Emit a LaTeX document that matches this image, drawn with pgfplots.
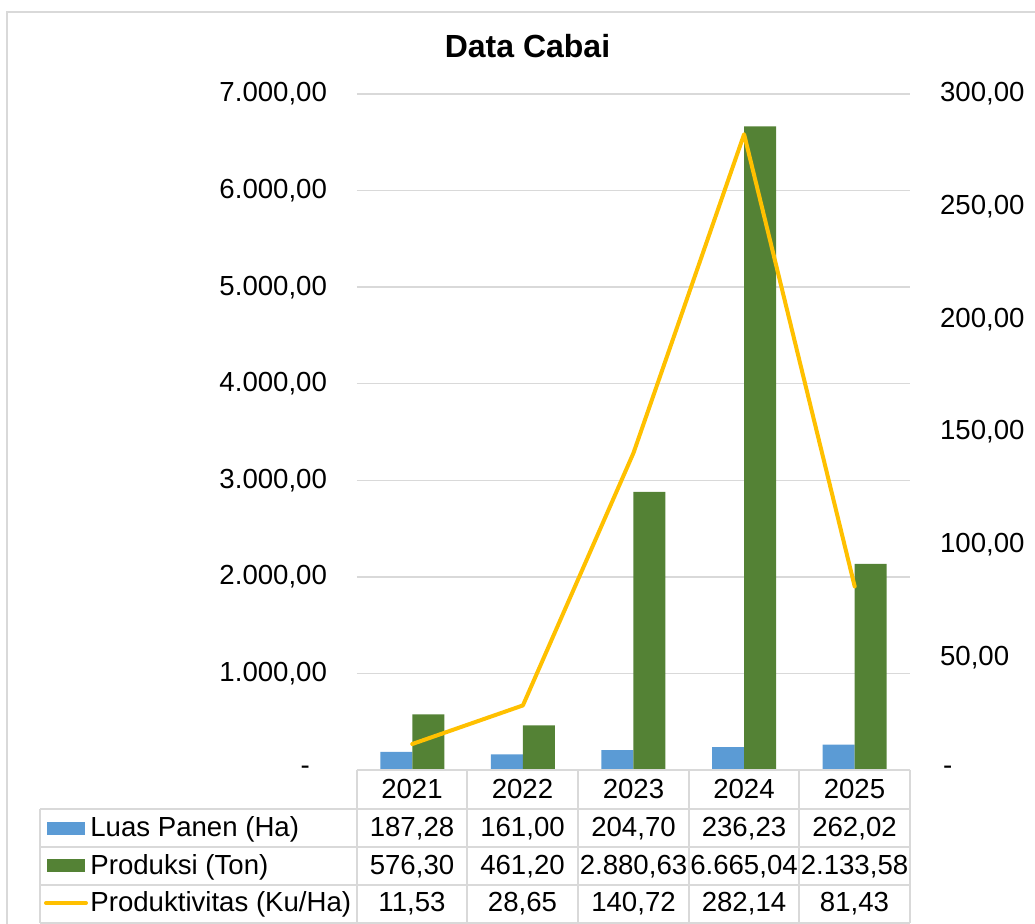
\documentclass[border=0pt]{standalone}
\usepackage{fontspec}
\setmainfont{Liberation Sans}
\usepackage{pgfplots}
\pgfplotsset{compat=1.18}
\definecolor{cblue}{HTML}{5B9BD5}
\definecolor{cgreen}{HTML}{548235}
\definecolor{cyellow}{HTML}{FFC000}
\definecolor{cgrid}{HTML}{D9D9D9}
\newcommand\tf{\fontsize{13.8}{16}\selectfont}
\begin{document}
\begin{tikzpicture}
\path[use as bounding box] (0,0) rectangle (517.5pt,462pt);
\draw[cgrid, line width=0.75pt] (3.5pt,0pt) -- (3.5pt,456pt) -- (517.5pt,456pt);
\begin{axis}[
  at={(178.5pt,77pt)}, anchor=south west,
  scale only axis, width=276.5pt, height=338pt,
  xmin=-0.5, xmax=4.5, ymin=0, ymax=7000,
  xtick=\empty,
  ytick={0,1000,2000,3000,4000,5000,6000,7000},
  yticklabels={{-\kern8.5pt},{1.000,00},{2.000,00},{3.000,00},{4.000,00},{5.000,00},{6.000,00},{7.000,00}},
  ymajorgrids, grid style={cgrid, line width=0.75pt},
  axis line style={draw=none}, major tick length=0pt, tick style={draw=none},
  yticklabel style={font=\tf, anchor=east, xshift=-11.5pt},
  ybar=0pt, bar width=16pt,
]
\addplot[fill=cblue, draw=none] coordinates {(0,187.28) (1,161.00) (2,204.70) (3,236.23) (4,262.02)};
\addplot[fill=cgreen, draw=none] coordinates {(0,576.30) (1,461.20) (2,2880.63) (3,6665.04) (4,2133.58)};
\end{axis}
\begin{axis}[
  at={(178.5pt,77pt)}, anchor=south west,
  scale only axis, width=276.5pt, height=338pt,
  xmin=-0.5, xmax=4.5, ymin=0, ymax=300,
  axis y line*=right, axis x line=none,
  ytick={0,50,100,150,200,250,300},
  yticklabels={{\kern1.5pt-},{50,00},{100,00},{150,00},{200,00},{250,00},{300,00}},
  axis line style={draw=none}, major tick length=0pt, tick style={draw=none},
  yticklabel style={font=\tf, anchor=west, xshift=11.5pt},
]
\addplot[cyellow, line width=2pt, line join=round, line cap=round] coordinates {(0,11.53) (1,28.65) (2,140.72) (3,282.14) (4,81.43)};
\end{axis}
\begin{scope}[x=0.5pt,y=0.5pt]
\node[anchor=base, font=\fontsize{16}{19}\selectfont\bfseries] at (527.5,866) {Data Cabai};
% table grid
\begin{scope}[cgrid, line width=0.75pt]
\draw (357,154) -- (910,154);
\foreach \yy in {115,77,39,1} {\draw (40,\yy) -- (910,\yy);}
\foreach \xx in {357,467,578,689,799,910} {\draw (\xx,154) -- (\xx,1);}
\draw (40,115) -- (40,1);
\end{scope}
% legend keys
\fill[cblue] (47,89) rectangle (85,102);
\fill[cgreen] (47,52) rectangle (85,65);
\draw[cyellow, line width=2pt, line cap=round] (46,21) -- (86,21);
\begin{scope}[font=\tf]
\node[anchor=base west, inner sep=0] at (90,87) {Luas Panen (Ha)};
\node[anchor=base west, inner sep=0] at (90,49) {Produksi (Ton)};
\node[anchor=base west, inner sep=0] at (90,12) {Produktivitas (Ku/Ha)};
\node[anchor=base, inner sep=0] at (412,125) {2021};
\node[anchor=base, inner sep=0] at (522.5,125) {2022};
\node[anchor=base, inner sep=0] at (633.5,125) {2023};
\node[anchor=base, inner sep=0] at (744,125) {2024};
\node[anchor=base, inner sep=0] at (854.5,125) {2025};
\node[anchor=base, inner sep=0] at (412,87) {187,28};
\node[anchor=base, inner sep=0] at (522.5,87) {161,00};
\node[anchor=base, inner sep=0] at (633.5,87) {204,70};
\node[anchor=base, inner sep=0] at (744,87) {236,23};
\node[anchor=base, inner sep=0] at (854.5,87) {262,02};
\node[anchor=base, inner sep=0] at (412,49) {576,30};
\node[anchor=base, inner sep=0] at (522.5,49) {461,20};
\node[anchor=base, inner sep=0] at (633.5,49) {2.880,63};
\node[anchor=base, inner sep=0] at (744,49) {6.665,04};
\node[anchor=base, inner sep=0] at (854.5,49) {2.133,58};
\node[anchor=base, inner sep=0] at (412,12) {11,53};
\node[anchor=base, inner sep=0] at (522.5,12) {28,65};
\node[anchor=base, inner sep=0] at (633.5,12) {140,72};
\node[anchor=base, inner sep=0] at (744,12) {282,14};
\node[anchor=base, inner sep=0] at (854.5,12) {81,43};
\end{scope}
\end{scope}
\end{tikzpicture}
\end{document}
